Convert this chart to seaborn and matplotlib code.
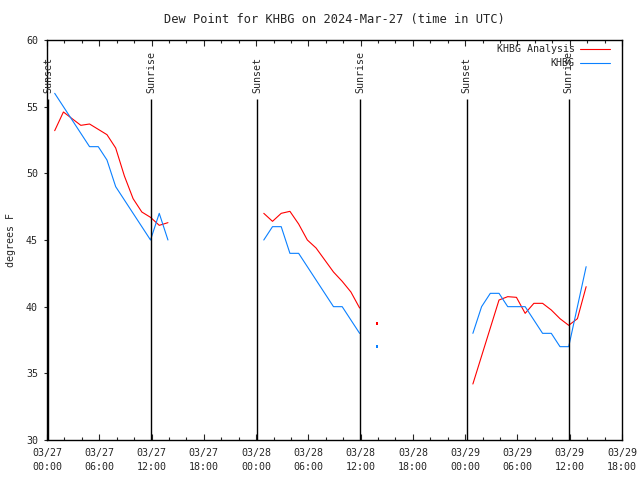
import matplotlib
matplotlib.use("Agg")
import matplotlib.pyplot as plt
import matplotlib.dates as mdates
import seaborn as sns
import numpy as np
import pandas as pd

# hourly obs starting at 00:53 UTC, None = missing
first_obs = "2024-03-27 00:53"
khbg = [56, 55, 54, 53, 52, 52, 51, 49, 48, 47, 46, 45, 47, 45,
        None, None, None, None, None, None, None, None, None, None,
        45, 46, 46, 44, 44, 43, 42, 41, 40, 40, 39, 38,
        None, 37, None, None, None, None, None, None, None, None, None, None,
        38, 40, 41, 41, 40, 40, 40, 39, 38, 38, 37, 37, 40, 43]
analysis = [53.2, 54.6, 54.1, 53.6, 53.7, 53.3, 52.9, 51.9, 49.8, 48.1, 47.1, 46.7, 46.1, 46.3,
            None, None, None, None, None, None, None, None, None, None,
            47.0, 46.4, 47.0, 47.15, 46.2, 45.0, 44.4, 43.5, 42.6, 41.9, 41.1, 39.9,
            None, 38.75, None, None, None, None, None, None, None, None, None, None,
            34.2, 36.3, 38.4, 40.5, 40.75, 40.7, 39.5, 40.25, 40.25, 39.75, 39.1, 38.6, 39.1, 41.5]
series_names = ["KHBG Analysis", "KHBG"]
series_colors = ["#ff0000", "#0a80ff"]

sunset = ["2024-03-27 00:08", "2024-03-28 00:09", "2024-03-29 00:10"]
sunrise = ["2024-03-27 11:57", "2024-03-28 11:55", "2024-03-29 11:54"]

x_start, x_end = "2024-03-27 00:00", "2024-03-29 18:00"

sns.set_style("white")
plt.rcParams["font.family"] = ["DejaVu Sans Mono"]
plt.rcParams["font.size"] = 7.2

times = pd.date_range(first_obs, periods=len(khbg), freq="h")
frames = []
for name, vals in zip(series_names, [analysis, khbg]):
    s = pd.Series(vals, dtype=float)
    d = pd.DataFrame({"time": times, "dewpt": s.values, "series": name,
                      "seg": s.isna().cumsum().values})
    frames.append(d.dropna())
df = pd.concat(frames, ignore_index=True)
df["n"] = df.groupby(["series", "seg"])["dewpt"].transform("size")
palette = dict(zip(series_names, series_colors))

fig = plt.figure(figsize=(6.4, 4.8), dpi=100)
ax = fig.add_axes([47 / 640, 40 / 480, 575 / 640, 400 / 480])

sns.lineplot(data=df[df["n"] > 1], x="time", y="dewpt", hue="series", units="seg",
             estimator=None, palette=palette, lw=0.8, legend=False, ax=ax)
sns.scatterplot(data=df[df["n"] == 1], x="time", y="dewpt", hue="series",
                palette=palette, s=3, marker="s", linewidth=0, legend=False, ax=ax)

for label, when in [("Sunset", sunset), ("Sunrise", sunrise)]:
    for t in pd.to_datetime(when):
        ax.vlines(t, 30, 55.6, color="black", lw=1.0)
        ax.text(t, 56.05, label, rotation=90, ha="center", va="bottom")

ax.set_xlim(pd.Timestamp(x_start), pd.Timestamp(x_end))
ax.set_ylim(30, 60)
ax.set_yticks(np.arange(30, 61, 5))
ax.xaxis.set_major_locator(mdates.HourLocator(byhour=[0, 6, 12, 18]))
ax.xaxis.set_minor_locator(mdates.HourLocator(interval=2))
ax.xaxis.set_major_formatter(mdates.DateFormatter("%m/%d\n%H:%M"))
ax.tick_params(axis="x", which="major", direction="in", length=4, width=0.8,
               top=True, bottom=True, pad=6)
ax.tick_params(axis="x", which="minor", direction="in", length=2.5, width=0.8,
               top=True, bottom=True)
ax.tick_params(axis="y", direction="out", length=2.5, width=0.8, left=True, pad=4)
for lab in ax.get_xticklabels():
    lab.set_linespacing(1.4)

for sp in ax.spines.values():
    sp.set_color("black")
    sp.set_linewidth(1.0)

ax.set_xlabel("")
ax.set_ylabel("degrees F", labelpad=7)
ax.set_title("Dew Point for KHBG on 2024-Mar-27 (time in UTC)", pad=12.5)

# key in the upper right, gnuplot style
for i, (name, col) in enumerate(zip(series_names, series_colors)):
    yy = 0.9775 - i * 0.035
    ax.text(0.918, yy, name, transform=ax.transAxes, ha="right", va="center")
    ax.plot([0.927, 0.979], [yy, yy], transform=ax.transAxes, color=col,
            lw=0.8, clip_on=False)

fig.savefig("out.png", dpi=100)
